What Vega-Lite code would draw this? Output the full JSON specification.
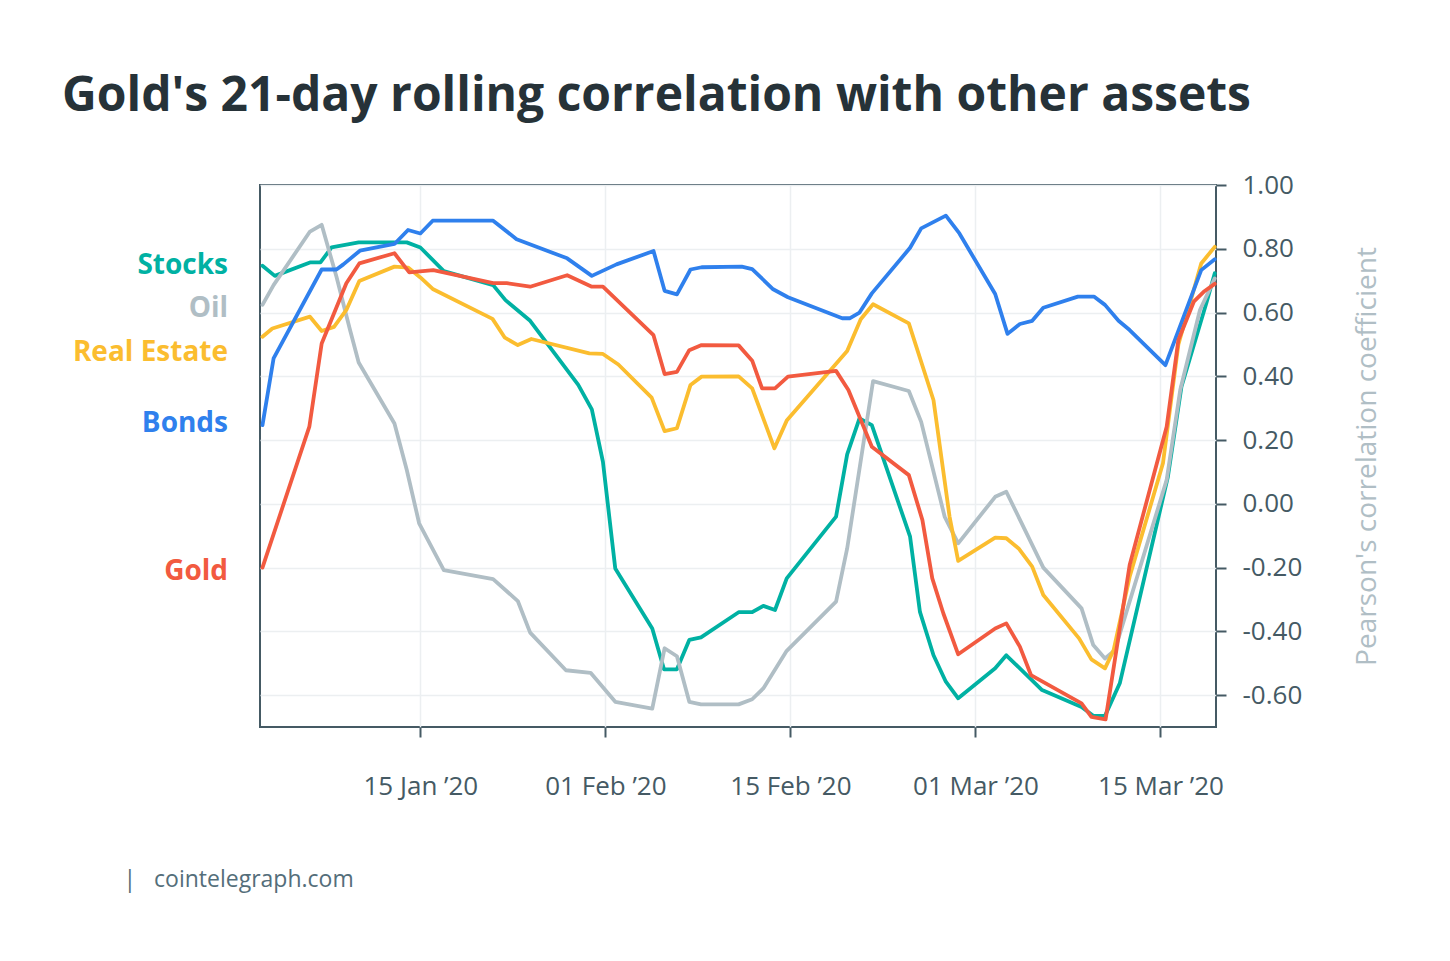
{
  "$schema": "https://vega.github.io/schema/vega-lite/v6.json",
  "width": 956,
  "height": 542,
  "autosize": {"type": "none"},
  "padding": {"left": 260, "top": 185, "right": 234, "bottom": 234},
  "background": "white",
  "config": {
    "view": {"stroke": "#455a64", "strokeWidth": 2},
    "axis": {"labelFont": "Open Sans", "titleFont": "Open Sans"},
    "text": {"font": "Open Sans"},
    "title": {"font": "Open Sans"}
  },
  "title": {
    "text": "Gold's 21-day rolling correlation with other assets",
    "anchor": "start",
    "frame": "group",
    "dx": -198,
    "offset": 51,
    "fontSize": 48,
    "fontWeight": "bold",
    "color": "#263238"
  },
  "datasets": {
    "series": [
      {"asset": "Stocks", "day": 0.2, "corr": 0.747}, {"asset": "Stocks", "day": 1.2, "corr": 0.715},
      {"asset": "Stocks", "day": 4.05, "corr": 0.757}, {"asset": "Stocks", "day": 4.9, "corr": 0.757},
      {"asset": "Stocks", "day": 5.8, "corr": 0.804}, {"asset": "Stocks", "day": 8.0, "corr": 0.82},
      {"asset": "Stocks", "day": 11.9, "corr": 0.82}, {"asset": "Stocks", "day": 13.0, "corr": 0.804},
      {"asset": "Stocks", "day": 14.9, "corr": 0.73}, {"asset": "Stocks", "day": 18.9, "corr": 0.686},
      {"asset": "Stocks", "day": 19.9, "corr": 0.639}, {"asset": "Stocks", "day": 21.9, "corr": 0.574},
      {"asset": "Stocks", "day": 25.8, "corr": 0.373}, {"asset": "Stocks", "day": 26.9, "corr": 0.296},
      {"asset": "Stocks", "day": 27.8, "corr": 0.132}, {"asset": "Stocks", "day": 28.8, "corr": -0.203},
      {"asset": "Stocks", "day": 31.8, "corr": -0.391}, {"asset": "Stocks", "day": 32.75, "corr": -0.519},
      {"asset": "Stocks", "day": 33.8, "corr": -0.519}, {"asset": "Stocks", "day": 34.8, "corr": -0.427},
      {"asset": "Stocks", "day": 35.75, "corr": -0.419}, {"asset": "Stocks", "day": 38.8, "corr": -0.34},
      {"asset": "Stocks", "day": 39.9, "corr": -0.34}, {"asset": "Stocks", "day": 40.8, "corr": -0.32},
      {"asset": "Stocks", "day": 41.75, "corr": -0.333}, {"asset": "Stocks", "day": 42.7, "corr": -0.234},
      {"asset": "Stocks", "day": 46.7, "corr": -0.04}, {"asset": "Stocks", "day": 47.6, "corr": 0.155},
      {"asset": "Stocks", "day": 48.6, "corr": 0.268}, {"asset": "Stocks", "day": 49.6, "corr": 0.247},
      {"asset": "Stocks", "day": 52.7, "corr": -0.103}, {"asset": "Stocks", "day": 53.5, "corr": -0.339},
      {"asset": "Stocks", "day": 54.6, "corr": -0.475}, {"asset": "Stocks", "day": 55.6, "corr": -0.558},
      {"asset": "Stocks", "day": 56.6, "corr": -0.61}, {"asset": "Stocks", "day": 59.6, "corr": -0.516},
      {"asset": "Stocks", "day": 60.5, "corr": -0.475}, {"asset": "Stocks", "day": 63.4, "corr": -0.584},
      {"asset": "Stocks", "day": 66.6, "corr": -0.637}, {"asset": "Stocks", "day": 67.55, "corr": -0.665},
      {"asset": "Stocks", "day": 68.5, "corr": -0.665}, {"asset": "Stocks", "day": 69.7, "corr": -0.563},
      {"asset": "Stocks", "day": 73.6, "corr": 0.085}, {"asset": "Stocks", "day": 74.7, "corr": 0.367},
      {"asset": "Stocks", "day": 76.75, "corr": 0.634}, {"asset": "Stocks", "day": 77.4, "corr": 0.723},

      {"asset": "Oil", "day": 0.2, "corr": 0.624}, {"asset": "Oil", "day": 1.1, "corr": 0.686},
      {"asset": "Oil", "day": 4.05, "corr": 0.854}, {"asset": "Oil", "day": 5.0, "corr": 0.875},
      {"asset": "Oil", "day": 6.2, "corr": 0.712}, {"asset": "Oil", "day": 7.3, "corr": 0.545},
      {"asset": "Oil", "day": 8.0, "corr": 0.443}, {"asset": "Oil", "day": 10.9, "corr": 0.252},
      {"asset": "Oil", "day": 11.9, "corr": 0.106}, {"asset": "Oil", "day": 12.9, "corr": -0.061},
      {"asset": "Oil", "day": 14.9, "corr": -0.208}, {"asset": "Oil", "day": 18.9, "corr": -0.236},
      {"asset": "Oil", "day": 20.9, "corr": -0.305}, {"asset": "Oil", "day": 21.9, "corr": -0.404},
      {"asset": "Oil", "day": 24.8, "corr": -0.522}, {"asset": "Oil", "day": 26.8, "corr": -0.53},
      {"asset": "Oil", "day": 28.8, "corr": -0.621}, {"asset": "Oil", "day": 31.8, "corr": -0.642},
      {"asset": "Oil", "day": 32.8, "corr": -0.453}, {"asset": "Oil", "day": 33.8, "corr": -0.478},
      {"asset": "Oil", "day": 34.8, "corr": -0.621}, {"asset": "Oil", "day": 35.75, "corr": -0.629},
      {"asset": "Oil", "day": 38.8, "corr": -0.629}, {"asset": "Oil", "day": 39.9, "corr": -0.613},
      {"asset": "Oil", "day": 40.8, "corr": -0.579}, {"asset": "Oil", "day": 42.7, "corr": -0.461},
      {"asset": "Oil", "day": 46.7, "corr": -0.307}, {"asset": "Oil", "day": 47.6, "corr": -0.14},
      {"asset": "Oil", "day": 49.7, "corr": 0.385}, {"asset": "Oil", "day": 52.6, "corr": 0.354},
      {"asset": "Oil", "day": 53.6, "corr": 0.257}, {"asset": "Oil", "day": 55.5, "corr": -0.04},
      {"asset": "Oil", "day": 56.6, "corr": -0.124}, {"asset": "Oil", "day": 59.6, "corr": 0.022},
      {"asset": "Oil", "day": 60.5, "corr": 0.038}, {"asset": "Oil", "day": 63.5, "corr": -0.2},
      {"asset": "Oil", "day": 66.6, "corr": -0.328}, {"asset": "Oil", "day": 67.55, "corr": -0.443},
      {"asset": "Oil", "day": 68.5, "corr": -0.485}, {"asset": "Oil", "day": 69.3, "corr": -0.459},
      {"asset": "Oil", "day": 73.5, "corr": 0.075}, {"asset": "Oil", "day": 74.6, "corr": 0.357},
      {"asset": "Oil", "day": 76.2, "corr": 0.608}, {"asset": "Oil", "day": 77.4, "corr": 0.707},

      {"asset": "Real Estate", "day": 0.2, "corr": 0.524}, {"asset": "Real Estate", "day": 1.0, "corr": 0.55},
      {"asset": "Real Estate", "day": 4.05, "corr": 0.587}, {"asset": "Real Estate", "day": 5.0, "corr": 0.542},
      {"asset": "Real Estate", "day": 6.0, "corr": 0.555}, {"asset": "Real Estate", "day": 7.0, "corr": 0.608},
      {"asset": "Real Estate", "day": 8.05, "corr": 0.699}, {"asset": "Real Estate", "day": 10.9, "corr": 0.744},
      {"asset": "Real Estate", "day": 12.0, "corr": 0.741}, {"asset": "Real Estate", "day": 13.0, "corr": 0.71},
      {"asset": "Real Estate", "day": 14.0, "corr": 0.674}, {"asset": "Real Estate", "day": 18.85, "corr": 0.58},
      {"asset": "Real Estate", "day": 19.85, "corr": 0.521}, {"asset": "Real Estate", "day": 20.9, "corr": 0.498},
      {"asset": "Real Estate", "day": 22.0, "corr": 0.517}, {"asset": "Real Estate", "day": 26.7, "corr": 0.472},
      {"asset": "Real Estate", "day": 27.8, "corr": 0.47}, {"asset": "Real Estate", "day": 29.05, "corr": 0.437},
      {"asset": "Real Estate", "day": 31.75, "corr": 0.333}, {"asset": "Real Estate", "day": 32.8, "corr": 0.228},
      {"asset": "Real Estate", "day": 33.8, "corr": 0.237}, {"asset": "Real Estate", "day": 34.9, "corr": 0.373},
      {"asset": "Real Estate", "day": 35.8, "corr": 0.399}, {"asset": "Real Estate", "day": 38.8, "corr": 0.4},
      {"asset": "Real Estate", "day": 39.9, "corr": 0.362}, {"asset": "Real Estate", "day": 41.7, "corr": 0.174},
      {"asset": "Real Estate", "day": 42.7, "corr": 0.261}, {"asset": "Real Estate", "day": 47.6, "corr": 0.479},
      {"asset": "Real Estate", "day": 48.7, "corr": 0.579}, {"asset": "Real Estate", "day": 49.7, "corr": 0.626},
      {"asset": "Real Estate", "day": 52.6, "corr": 0.566}, {"asset": "Real Estate", "day": 54.6, "corr": 0.325},
      {"asset": "Real Estate", "day": 55.9, "corr": -0.04}, {"asset": "Real Estate", "day": 56.6, "corr": -0.179},
      {"asset": "Real Estate", "day": 59.6, "corr": -0.106}, {"asset": "Real Estate", "day": 60.5, "corr": -0.108},
      {"asset": "Real Estate", "day": 61.5, "corr": -0.14}, {"asset": "Real Estate", "day": 62.6, "corr": -0.197},
      {"asset": "Real Estate", "day": 63.5, "corr": -0.286}, {"asset": "Real Estate", "day": 66.4, "corr": -0.422},
      {"asset": "Real Estate", "day": 67.4, "corr": -0.488}, {"asset": "Real Estate", "day": 68.5, "corr": -0.516},
      {"asset": "Real Estate", "day": 69.2, "corr": -0.459}, {"asset": "Real Estate", "day": 70.5, "corr": -0.229},
      {"asset": "Real Estate", "day": 73.2, "corr": 0.127}, {"asset": "Real Estate", "day": 74.45, "corr": 0.5},
      {"asset": "Real Estate", "day": 76.3, "corr": 0.754}, {"asset": "Real Estate", "day": 77.4, "corr": 0.806},

      {"asset": "Bonds", "day": 0.2, "corr": 0.247}, {"asset": "Bonds", "day": 1.1, "corr": 0.456},
      {"asset": "Bonds", "day": 5.0, "corr": 0.735}, {"asset": "Bonds", "day": 6.2, "corr": 0.735},
      {"asset": "Bonds", "day": 6.76, "corr": 0.751}, {"asset": "Bonds", "day": 8.1, "corr": 0.794},
      {"asset": "Bonds", "day": 10.9, "corr": 0.815}, {"asset": "Bonds", "day": 12.0, "corr": 0.859},
      {"asset": "Bonds", "day": 13.0, "corr": 0.848}, {"asset": "Bonds", "day": 14.0, "corr": 0.888},
      {"asset": "Bonds", "day": 18.9, "corr": 0.888}, {"asset": "Bonds", "day": 20.8, "corr": 0.83},
      {"asset": "Bonds", "day": 24.9, "corr": 0.77}, {"asset": "Bonds", "day": 26.9, "corr": 0.715},
      {"asset": "Bonds", "day": 28.9, "corr": 0.751}, {"asset": "Bonds", "day": 31.9, "corr": 0.793},
      {"asset": "Bonds", "day": 32.8, "corr": 0.668}, {"asset": "Bonds", "day": 33.8, "corr": 0.657},
      {"asset": "Bonds", "day": 34.9, "corr": 0.735}, {"asset": "Bonds", "day": 35.8, "corr": 0.742},
      {"asset": "Bonds", "day": 39.05, "corr": 0.744}, {"asset": "Bonds", "day": 39.9, "corr": 0.736},
      {"asset": "Bonds", "day": 41.6, "corr": 0.673}, {"asset": "Bonds", "day": 42.8, "corr": 0.648},
      {"asset": "Bonds", "day": 47.2, "corr": 0.582}, {"asset": "Bonds", "day": 47.8, "corr": 0.582},
      {"asset": "Bonds", "day": 48.6, "corr": 0.6}, {"asset": "Bonds", "day": 49.6, "corr": 0.66},
      {"asset": "Bonds", "day": 52.7, "corr": 0.803}, {"asset": "Bonds", "day": 53.6, "corr": 0.864},
      {"asset": "Bonds", "day": 55.6, "corr": 0.904}, {"asset": "Bonds", "day": 56.7, "corr": 0.848},
      {"asset": "Bonds", "day": 59.6, "corr": 0.658}, {"asset": "Bonds", "day": 60.6, "corr": 0.533},
      {"asset": "Bonds", "day": 61.6, "corr": 0.564}, {"asset": "Bonds", "day": 62.6, "corr": 0.574},
      {"asset": "Bonds", "day": 63.5, "corr": 0.615}, {"asset": "Bonds", "day": 66.3, "corr": 0.65},
      {"asset": "Bonds", "day": 67.6, "corr": 0.65}, {"asset": "Bonds", "day": 68.5, "corr": 0.624},
      {"asset": "Bonds", "day": 69.6, "corr": 0.574}, {"asset": "Bonds", "day": 70.5, "corr": 0.545},
      {"asset": "Bonds", "day": 73.4, "corr": 0.435}, {"asset": "Bonds", "day": 76.3, "corr": 0.733},
      {"asset": "Bonds", "day": 77.4, "corr": 0.767},

      {"asset": "Gold", "day": 0.2, "corr": -0.2}, {"asset": "Gold", "day": 4.0, "corr": 0.242},
      {"asset": "Gold", "day": 5.0, "corr": 0.503}, {"asset": "Gold", "day": 7.0, "corr": 0.692},
      {"asset": "Gold", "day": 8.05, "corr": 0.754}, {"asset": "Gold", "day": 10.9, "corr": 0.786},
      {"asset": "Gold", "day": 12.1, "corr": 0.726}, {"asset": "Gold", "day": 14.05, "corr": 0.733},
      {"asset": "Gold", "day": 18.9, "corr": 0.692}, {"asset": "Gold", "day": 20.0, "corr": 0.692},
      {"asset": "Gold", "day": 21.9, "corr": 0.681}, {"asset": "Gold", "day": 24.9, "corr": 0.717},
      {"asset": "Gold", "day": 26.9, "corr": 0.681}, {"asset": "Gold", "day": 27.8, "corr": 0.681},
      {"asset": "Gold", "day": 31.9, "corr": 0.529}, {"asset": "Gold", "day": 32.8, "corr": 0.407},
      {"asset": "Gold", "day": 33.8, "corr": 0.414}, {"asset": "Gold", "day": 34.8, "corr": 0.482},
      {"asset": "Gold", "day": 35.8, "corr": 0.498}, {"asset": "Gold", "day": 38.8, "corr": 0.497},
      {"asset": "Gold", "day": 39.9, "corr": 0.449}, {"asset": "Gold", "day": 40.7, "corr": 0.362},
      {"asset": "Gold", "day": 41.75, "corr": 0.362}, {"asset": "Gold", "day": 42.8, "corr": 0.399},
      {"asset": "Gold", "day": 46.7, "corr": 0.417}, {"asset": "Gold", "day": 47.7, "corr": 0.357},
      {"asset": "Gold", "day": 49.6, "corr": 0.179}, {"asset": "Gold", "day": 52.6, "corr": 0.09},
      {"asset": "Gold", "day": 53.7, "corr": -0.051}, {"asset": "Gold", "day": 54.5, "corr": -0.234},
      {"asset": "Gold", "day": 55.4, "corr": -0.344}, {"asset": "Gold", "day": 56.6, "corr": -0.472},
      {"asset": "Gold", "day": 59.6, "corr": -0.391}, {"asset": "Gold", "day": 60.5, "corr": -0.375},
      {"asset": "Gold", "day": 61.6, "corr": -0.448}, {"asset": "Gold", "day": 62.5, "corr": -0.537},
      {"asset": "Gold", "day": 66.6, "corr": -0.626}, {"asset": "Gold", "day": 67.4, "corr": -0.668},
      {"asset": "Gold", "day": 68.55, "corr": -0.676}, {"asset": "Gold", "day": 70.5, "corr": -0.192},
      {"asset": "Gold", "day": 73.5, "corr": 0.242}, {"asset": "Gold", "day": 74.45, "corr": 0.514},
      {"asset": "Gold", "day": 75.7, "corr": 0.634}, {"asset": "Gold", "day": 76.5, "corr": 0.665},
      {"asset": "Gold", "day": 77.4, "corr": 0.69}
    ],
    "labels": [
      {"asset": "Stocks", "day": 0, "corr": 0.745},
      {"asset": "Oil", "day": 0, "corr": 0.61},
      {"asset": "Real Estate", "day": 0, "corr": 0.472},
      {"asset": "Bonds", "day": 0, "corr": 0.25},
      {"asset": "Gold", "day": 0, "corr": -0.215}
    ]
  },
  "encoding": {
    "x": {
      "field": "day",
      "type": "quantitative",
      "scale": {"domain": [0, 77.5], "nice": false, "zero": false},
      "axis": {
        "values": [13, 28, 43, 58, 73],
        "labelExpr": "datum.value == 13 ? '15 Jan \u201920' : datum.value == 28 ? '01 Feb \u201920' : datum.value == 43 ? '15 Feb \u201920' : datum.value == 58 ? '01 Mar \u201920' : '15 Mar \u201920'",
        "domain": false,
        "grid": true,
        "gridColor": "#eceff1",
        "gridWidth": 1.5,
        "ticks": true,
        "tickSize": 10,
        "tickWidth": 2,
        "tickColor": "#455a64",
        "labelFontSize": 26,
        "labelColor": "#455a64",
        "labelPadding": 36,
        "title": "|\u00a0\u00a0 cointelegraph.com",
        "titleFontSize": 23,
        "titleFontWeight": "normal",
        "titleColor": "#546e7a",
        "titleAlign": "left",
        "titleBaseline": "alphabetic",
        "titleX": -137,
        "titleY": 159
      }
    },
    "y": {
      "field": "corr",
      "type": "quantitative",
      "scale": {"domain": [-0.7, 1.0], "nice": false, "zero": false},
      "axis": {
        "orient": "right",
        "values": [-0.6, -0.4, -0.2, 0, 0.2, 0.4, 0.6, 0.8, 1.0],
        "labelExpr": "replace(format(datum.value, '.2f'), '\u2212', '-')",
        "domain": false,
        "grid": true,
        "gridColor": "#eceff1",
        "gridWidth": 1.5,
        "tickSize": 10,
        "tickWidth": 2,
        "tickColor": "#455a64",
        "labelFontSize": 26,
        "labelColor": "#455a64",
        "labelPadding": 16,
        "title": "Pearson's correlation coefficient",
        "titleFontSize": 28,
        "titleFontWeight": "normal",
        "titleColor": "#b0bec5",
        "titleAngle": 270,
        "titlePadding": 80
      }
    },
    "color": {
      "field": "asset",
      "type": "nominal",
      "scale": {
        "domain": ["Stocks", "Oil", "Real Estate", "Bonds", "Gold"],
        "range": ["#00b1a3", "#b0bec5", "#fbbd2f", "#2f80ed", "#f25a40"]
      },
      "legend": null
    }
  },
  "layer": [
    {
      "data": {"name": "series"},
      "mark": {"type": "line", "strokeWidth": 3.8, "strokeJoin": "round", "strokeCap": "round"}
    },
    {
      "data": {"name": "labels"},
      "mark": {"type": "text", "align": "right", "baseline": "middle", "dx": -32, "fontSize": 28, "fontWeight": "bold"},
      "encoding": {"text": {"field": "asset"}}
    }
  ]
}
